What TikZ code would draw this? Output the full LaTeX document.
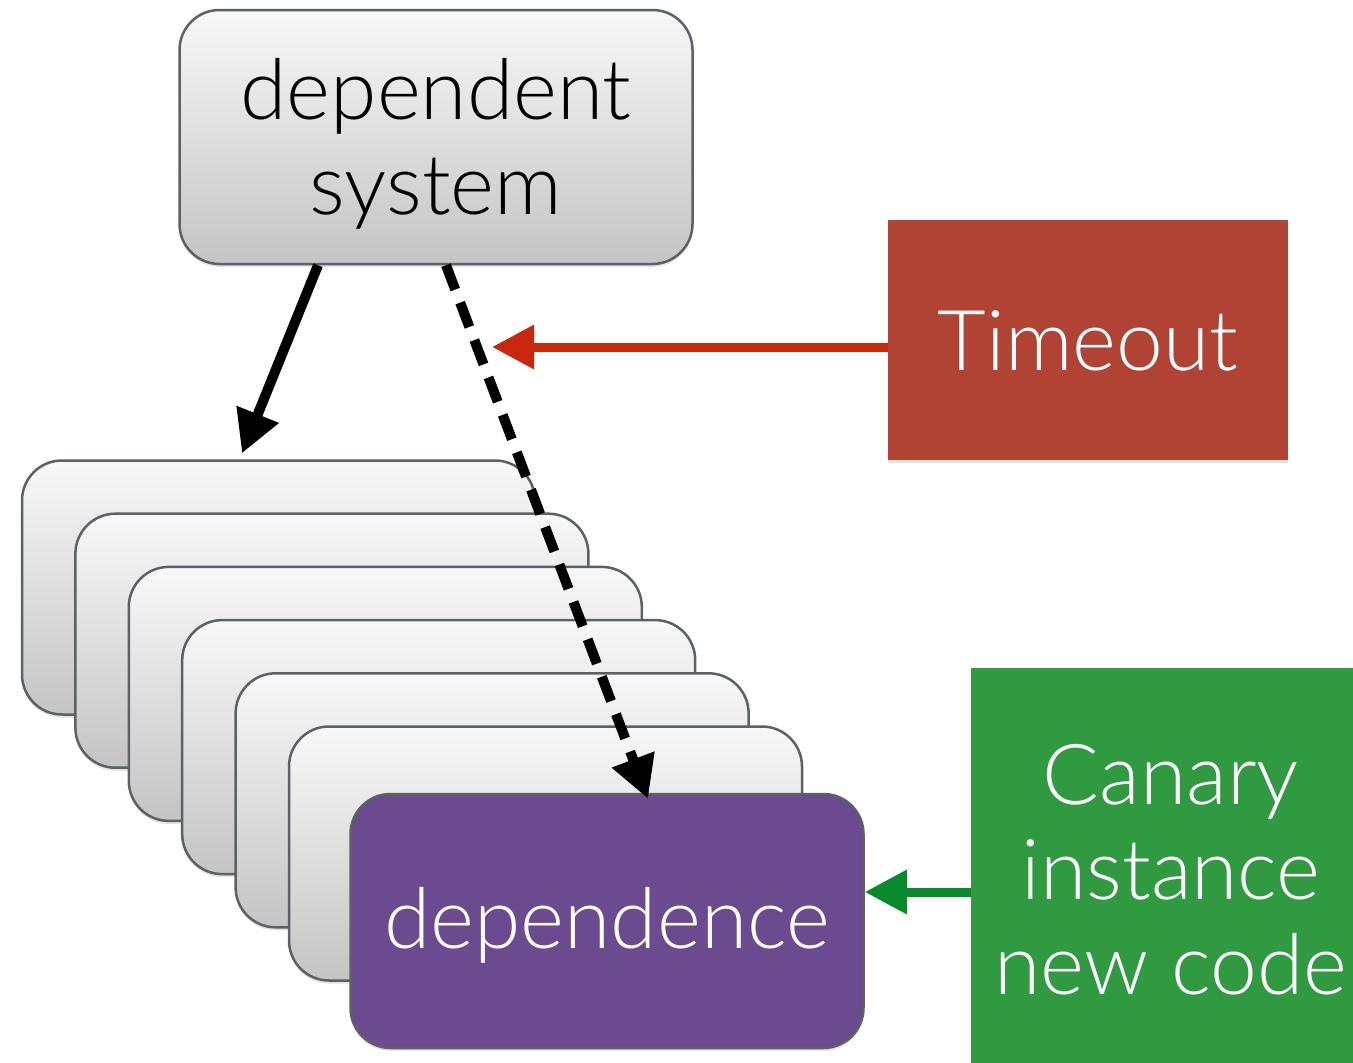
\documentclass[tikz,border=0pt]{standalone}
\usepackage{fontspec}
\setmainfont{Lato Light}
\usetikzlibrary{arrows.meta,shadows}

\definecolor{edgegray}{HTML}{5C6067}
\definecolor{cardtop}{HTML}{F8F8F8}
\definecolor{cardbottom}{HTML}{C4C4C4}
\definecolor{plum}{HTML}{6B4A90}
\definecolor{brick}{HTML}{B04334}
\definecolor{leaf}{HTML}{2F9A40}
\definecolor{alertred}{HTML}{C9260B}
\definecolor{okgreen}{HTML}{078A2A}

\begin{document}
\begin{tikzpicture}[x=1pt,y=-1pt,
  softshadow/.style={drop shadow={opacity=0.22,shadow xshift=0pt,shadow yshift=-3pt}},
  card/.style={draw=edgegray,line width=2.5pt,rounded corners=40pt,
    minimum width=513pt,minimum height=254pt,inner sep=0pt,
    top color=cardtop,bottom color=cardbottom,softshadow},
  label/.style={font=\fontsize{84}{95}\selectfont,align=center},
  flag/.style={inner sep=0pt,label,text=white,softshadow},
  callarrow/.style={line width=10pt,-{Triangle[length=42pt,width=43pt]}},
  markarrow/.style={line width=9pt,-{Triangle[length=42pt,width=42pt]}}]

\useasboundingbox (0,0) rectangle (1353,1063);

% calling system
\node[card,label,text height=184pt,text depth=30pt] (dep) at (436,137) {dependent\\system};

% pool of dependency instances, back to front
\node[card] (s1) at (278.5,587.5) {};
\node[card] (s2) at (331.9,640.7) {};
\node[card] (s3) at (385.3,693.9) {};
\node[card] (s4) at (438.7,747.1) {};
\node[card] (s5) at (492.1,800.3) {};
\node[card] (s6) at (545.5,853.5) {};
\node[card,fill=plum,draw=edgegray,top color=plum,bottom color=plum,
      label,text=white,text height=71pt,text depth=17pt] (pur) at (607,921) {dependence};

% side labels
\node[flag,fill=brick,minimum width=400pt,minimum height=240pt,
      text height=64pt,text depth=4pt] (tim) at (1088,340) {Timeout};
\node[flag,fill=leaf,minimum width=400pt,minimum height=400pt,
      text height=282pt,text depth=30pt] (can) at (1171,868)
  {Canary\\instance\\new code};

% calls
\draw[callarrow] ([xshift=-118pt]dep.south) -- ([xshift=-36.5pt,yshift=6pt]s1.north);
\draw[callarrow,dash pattern=on 26pt off 14pt] ([xshift=10pt]dep.south) -- ([xshift=41pt,yshift=-6pt]pur.north);

% annotations
\coordinate (tmark) at (492,347);
\draw[markarrow,draw=alertred,fill=alertred] (tim.west |- tmark) -- (tmark);
\coordinate (gs) at ([yshift=-24pt]can.west);
\draw[markarrow,draw=okgreen,fill=okgreen] (gs) -- (gs -| pur.east);
\end{tikzpicture}
\end{document}
